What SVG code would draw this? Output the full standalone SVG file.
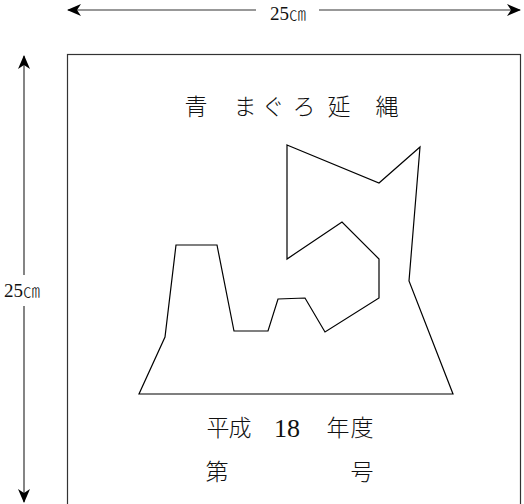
<svg xmlns="http://www.w3.org/2000/svg" width="524" height="504" viewBox="0 0 524 504">
<style>
.dim{stroke:#333;stroke-width:1.2;fill:none}
.jp{font-family:"Noto Sans CJK JP","Noto Sans",sans-serif;font-weight:300;fill:#111;text-anchor:middle}
.lab{font-family:"Liberation Serif",serif;fill:#111;font-size:19px;text-anchor:middle}
.cm{font-family:"Noto Sans CJK JP",sans-serif;font-size:17px;font-weight:300}
.num{font-family:"Liberation Serif",serif;fill:#111;font-size:26px;text-anchor:middle}
</style>
<defs>
<marker id="ah" viewBox="0 0 14 12" refX="13" refY="6" markerWidth="14" markerHeight="12" markerUnits="userSpaceOnUse" orient="auto-start-reverse">
<path d="M0,0 L14,6 L0,12 L4,6 Z" fill="#000"/>
</marker>
</defs>
<rect id="frame" x="67.5" y="54.5" width="453" height="460" fill="none" stroke="#333" stroke-width="1.2"/>
<g id="connectors">
<line class="dim" x1="68" y1="10" x2="256" y2="10" marker-start="url(#ah)"/>
<line class="dim" x1="319" y1="10" x2="520" y2="10" marker-end="url(#ah)"/>
<line class="dim" x1="24" y1="56" x2="24" y2="275" marker-start="url(#ah)"/>
<line class="dim" x1="24" y1="306" x2="24" y2="502" marker-end="url(#ah)"/>
</g>
<g id="dim-labels">
<text class="lab" x="288" y="20">25<tspan class="cm">㎝</tspan></text>
<text class="lab" x="22" y="297">25<tspan class="cm">㎝</tspan></text>
</g>
<g id="title" class="jp" font-size="23">
<text x="196" y="115">青</text>
<text x="245" y="115">ま</text>
<text x="273" y="115">ぐ</text>
<text x="304" y="115">ろ</text>
<text x="339" y="115">延</text>
<text x="387" y="115">縄</text>
</g>
<g id="shape">
<polygon points="287,145 379,183 420,147 409,281 453,394 139,394 165,337 176,245 217,245 234,331 268,331 278,299 305,298 325,332 379,298 379,259 342,222 287,259" fill="none" stroke="#000" stroke-width="1.2" stroke-linejoin="miter"/>
</g>
<g id="footer" class="jp" font-size="23">
<text x="218" y="436">平</text>
<text x="240" y="436">成</text>
<text class="num" x="287" y="437">18</text>
<text x="338" y="436">年</text>
<text x="362" y="436">度</text>
<text x="217" y="480">第</text>
<text x="362" y="480">号</text>
</g>
</svg>
